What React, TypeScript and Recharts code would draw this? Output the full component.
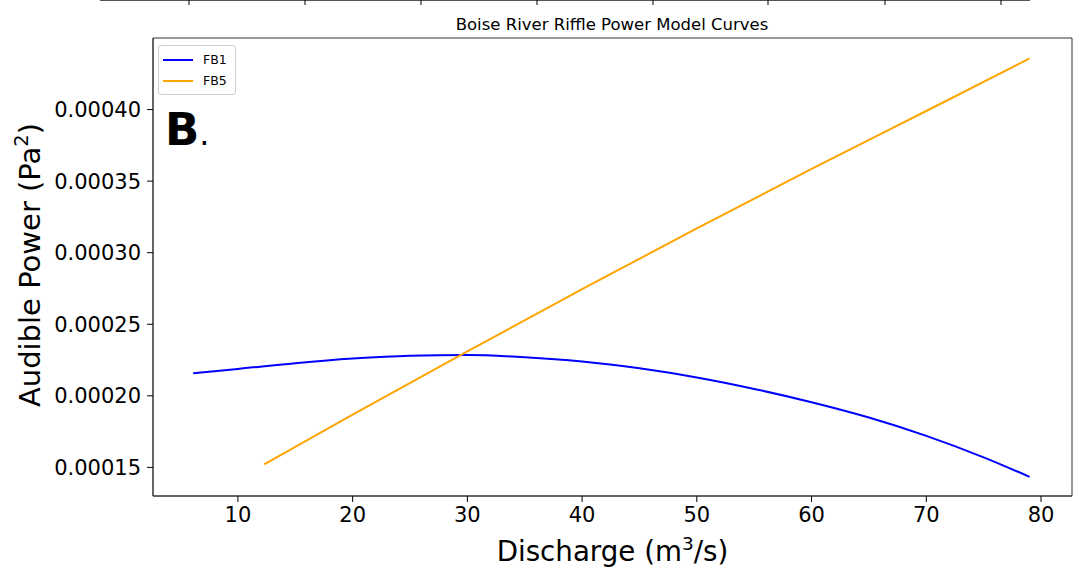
import { Customized, Legend, Line, LineChart, ReferenceArea, XAxis, YAxis } from "recharts";

const FONT = "DejaVu Sans";

// FB1 model curve
const fb1Discharge = [6.1, 10, 15, 20, 25, 30, 35, 40, 45, 50, 55, 60, 65, 70, 75, 79.0];
const fb1Power = [
  0.0002157, 0.0002188, 0.0002228, 0.000226, 0.000228, 0.0002285, 0.000227, 0.000224,
  0.0002192, 0.0002128, 0.0002048, 0.0001955, 0.0001848, 0.000172, 0.000157, 0.0001434,
];

// FB5 model curve
const fb5Discharge = [12.3, 20, 30, 40, 50, 60, 70, 79.0];
const fb5Power = [0.0001521, 0.0001868, 0.000231, 0.0002745, 0.000317, 0.0003585, 0.000399, 0.0004357];

const xTicks = [10, 20, 30, 40, 50, 60, 70, 80];
const yTicks = [0.00015, 0.0002, 0.00025, 0.0003, 0.00035, 0.0004];

const X_DOMAIN = [2.6, 82.7];
const Y_DOMAIN = [0.00013, 0.00045];

const fb1 = fb1Discharge.map((q, i) => ({ q, p: fb1Power[i] }));
const fb5 = fb5Discharge.map((q, i) => ({ q, p: fb5Power[i] }));

const series = [
  { name: "FB1", color: "#0000ff" },
  { name: "FB5", color: "#ffa500" },
];

function XLabel(props: any) {
  const { x, y, width } = props.viewBox;
  return (
    <text x={x + width / 2} y={y + 65} textAnchor="middle" fontFamily={FONT} fontSize={27.7} fill="#000">
      Discharge (m
      <tspan dy={-11} fontSize={18.5}>3</tspan>
      <tspan dy={11}>/s)</tspan>
    </text>
  );
}

function YLabel() {
  const cx = 40;
  const cy = 265;
  return (
    <text x={cx} y={cy} textAnchor="middle" fontFamily={FONT} fontSize={29} fill="#000" transform={`rotate(-90, ${cx}, ${cy})`}>
      Audible Power (Pa
      <tspan dy={-12} fontSize={19.5}>2</tspan>
      <tspan dy={12}>)</tspan>
    </text>
  );
}

function Extras() {
  const topTicks = [189, 305, 421, 537, 653, 768, 885, 1001];
  return (
    <g>
      <line x1={100} y1={0.5} x2={1030} y2={0.5} stroke="#555" strokeWidth={1} />
      {topTicks.map((t) => (
        <line key={t} x1={t} y1={0} x2={t} y2={5} stroke="#000" strokeWidth={1} />
      ))}
      <text x={612} y={30} textAnchor="middle" fontFamily={FONT} fontSize={16.5} fill="#000">
        Boise River Riffle Power Model Curves
      </text>
      <text x={165} y={145} fontFamily={FONT} fontSize={45} fontWeight="bold" fill="#000">
        B<tspan fontWeight="normal" fontSize={32}>.</tspan>
      </text>
    </g>
  );
}

function LegendBox() {
  return (
    <div
      style={{
        border: "1px solid #d0d0d0",
        borderRadius: 3,
        background: "rgba(255,255,255,0.8)",
        padding: "3px 8px 3px 4px",
        fontFamily: FONT,
        fontSize: 12.5,
        lineHeight: "21px",
      }}
    >
      {series.map((s) => (
        <div key={s.name} style={{ display: "flex", alignItems: "center" }}>
          <svg width={30} height={4} style={{ marginRight: 10 }}>
            <line x1={0} y1={2} x2={30} y2={2} stroke={s.color} strokeWidth={2} />
          </svg>
          <span>{s.name}</span>
        </div>
      ))}
    </div>
  );
}

export default function App() {
  const tickStyle = { fontFamily: FONT, fontSize: 21, fill: "#000" };
  return (
    <div style={{ position: "absolute", left: 0, top: 0, background: "#fff" }}>
      <LineChart width={1078} height={572} margin={{ top: 38, right: 6, bottom: 0, left: 0 }}>
        <XAxis
          type="number"
          dataKey="q"
          domain={X_DOMAIN}
          ticks={xTicks}
          allowDataOverflow
          height={76}
          tick={tickStyle}
          tickSize={6}
          tickMargin={5}
          tickLine={{ stroke: "#000" }}
          axisLine={{ stroke: "#333" }}
          label={<XLabel />}
        />
        <YAxis
          type="number"
          dataKey="p"
          domain={Y_DOMAIN}
          ticks={yTicks}
          allowDataOverflow
          width={153}
          tick={tickStyle}
          tickSize={6}
          tickMargin={6}
          tickFormatter={(v: number) => v.toFixed(5)}
          tickLine={{ stroke: "#000" }}
          axisLine={{ stroke: "#333" }}
          label={<YLabel />}
        />
        <ReferenceArea
          x1={X_DOMAIN[0]}
          x2={X_DOMAIN[1]}
          y1={Y_DOMAIN[0]}
          y2={Y_DOMAIN[1]}
          fill="none"
          stroke="#333"
          strokeWidth={1}
          ifOverflow="visible"
        />
        <Line data={fb1} dataKey="p" name="FB1" type="monotone" stroke="#0000ff" strokeWidth={2} dot={false} isAnimationActive={false} />
        <Line data={fb5} dataKey="p" name="FB5" type="monotone" stroke="#ffa500" strokeWidth={2} dot={false} isAnimationActive={false} />
        <Legend
          layout="vertical"
          verticalAlign="middle"
          align="center"
          wrapperStyle={{ left: 158, top: 45, width: "auto", height: "auto" }}
          content={<LegendBox />}
        />
        <Customized component={Extras} />
      </LineChart>
    </div>
  );
}
